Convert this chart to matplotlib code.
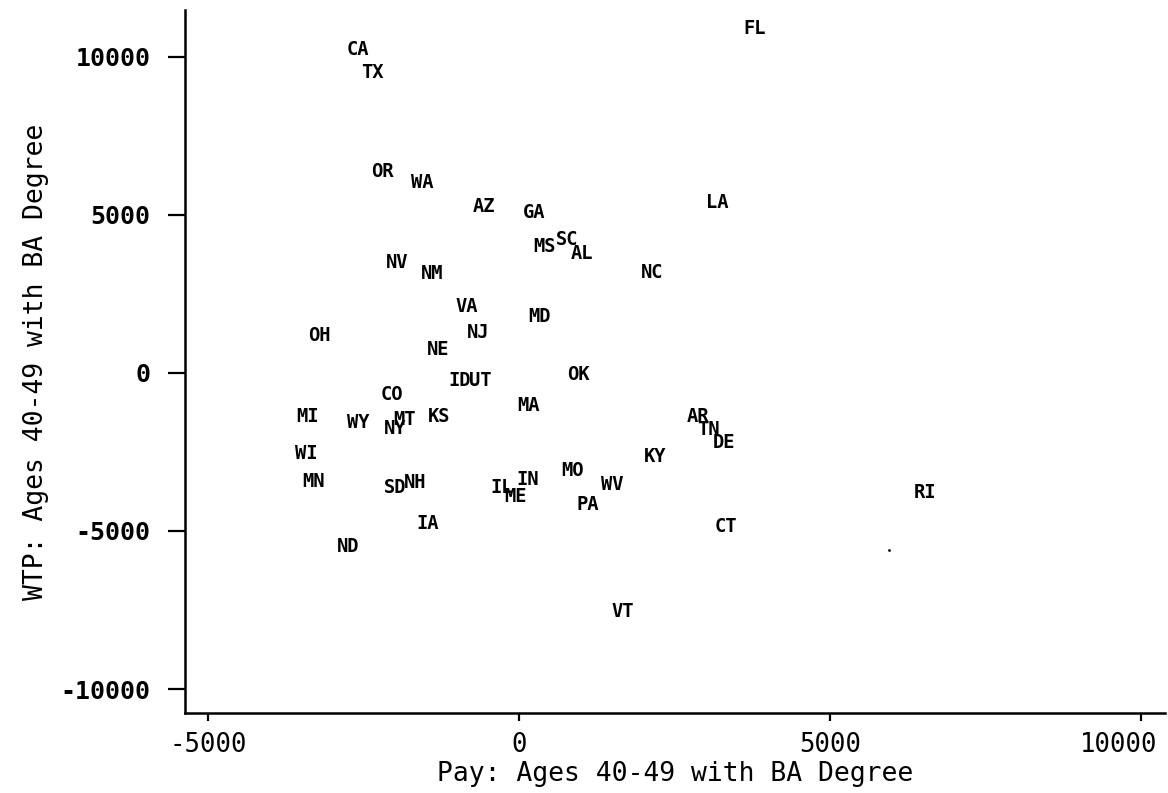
import matplotlib
matplotlib.use("Agg")
import matplotlib.pyplot as plt
from matplotlib.transforms import ScaledTranslation

# State-level differences: pay (x) vs. willingness to pay (y), ages 40-49 with BA degree
states = ["FL", "CA", "TX", "OR", "WA", "AZ", "GA", "LA", "MS", "SC",
          "AL", "NV", "NM", "NC", "VA", "MD", "NJ", "OH", "NE", "ID",
          "UT", "OK", "CO", "MA", "MI", "WY", "MT", "NY", "KS", "AR",
          "TN", "DE", "WI", "KY", "MN", "MO", "IN", "WV", "SD", "NH",
          "IL", "ME", "RI", "PA", "IA", "CT", "ND", "VT"]
pay = [3794, -2588, -2363, -2203, -1559, -563, 241, 3183, 418, 772,
       1013, -1961, -1399, 2138, -836, 322, -659, -3215, -1302, -949,
       -627, 949, -2042, 145, -3408, -2588, -1833, -1994, -1286, 2878,
       3039, 3296, -3424, 2186, -3312, 868, 145, 1495, -1994, -1672,
       -273, -64, 6527, 1109, -1463, 3328, -2749, 1672]
wtp = [10886, 10222, 9494, 6361, 6013, 5253, 5063, 5380, 3987, 4209,
       3797, 3481, 3133, 3165, 2089, 1772, 1266, 1171, 759, -253,
       -253, -32, -665, -1013, -1392, -1551, -1456, -1741, -1392, -1392,
       -1804, -2215, -2532, -2658, -3449, -3101, -3386, -3544, -3639, -3481,
       -3639, -3924, -3766, -4177, -4747, -4842, -5506, -7563]

# stray unlabeled point
extra_x = [5949]
extra_y = [-5601]

xticks = [-5000, 0, 5000, 10000]
yticks = [-10000, -5000, 0, 5000, 10000]

mono = "DejaVu Sans Mono"

fig = plt.figure(figsize=(11.68, 7.93), dpi=100)
ax = fig.add_axes([0.1584, 0.1009, 0.8390, 0.8865])

for s, x, y in zip(states, pay, wtp):
    ax.text(x, y, s, ha="center", va="center", fontsize=13.5,
            fontweight="bold", family=mono, color="black")

ax.scatter(extra_x, extra_y, s=4, color="black", marker="o", linewidths=0)

ax.set_xlim(-5370, 10386)
ax.set_ylim(-10759, 11487)
ax.set_xticks(xticks)
ax.set_yticks(yticks)

for side in ("top", "right"):
    ax.spines[side].set_visible(False)
for side in ("left", "bottom"):
    ax.spines[side].set_linewidth(1.8)

ax.tick_params(axis="y", length=12, width=1.6, pad=13, direction="out")
ax.tick_params(axis="x", length=6, width=1.6, pad=8, direction="out")

ax.set_xticklabels([str(v) for v in xticks], family=mono, fontsize=18.5)
ax.set_yticklabels([str(v) for v in yticks], family=mono, fontsize=18,
                   fontweight="bold")

# keep the rightmost x tick label inside the figure
last = ax.xaxis.get_major_ticks()[-1].label1
last.set_transform(last.get_transform()
                   + ScaledTranslation(-22 / 100, 0, fig.dpi_scale_trans))

ax.set_xlabel("Pay: Ages 40-49 with BA Degree", family=mono, fontsize=19,
              labelpad=2)
ax.set_ylabel("WTP: Ages 40-49 with BA Degree", family=mono, fontsize=19,
              labelpad=8)

fig.savefig("out.png", dpi=100)
